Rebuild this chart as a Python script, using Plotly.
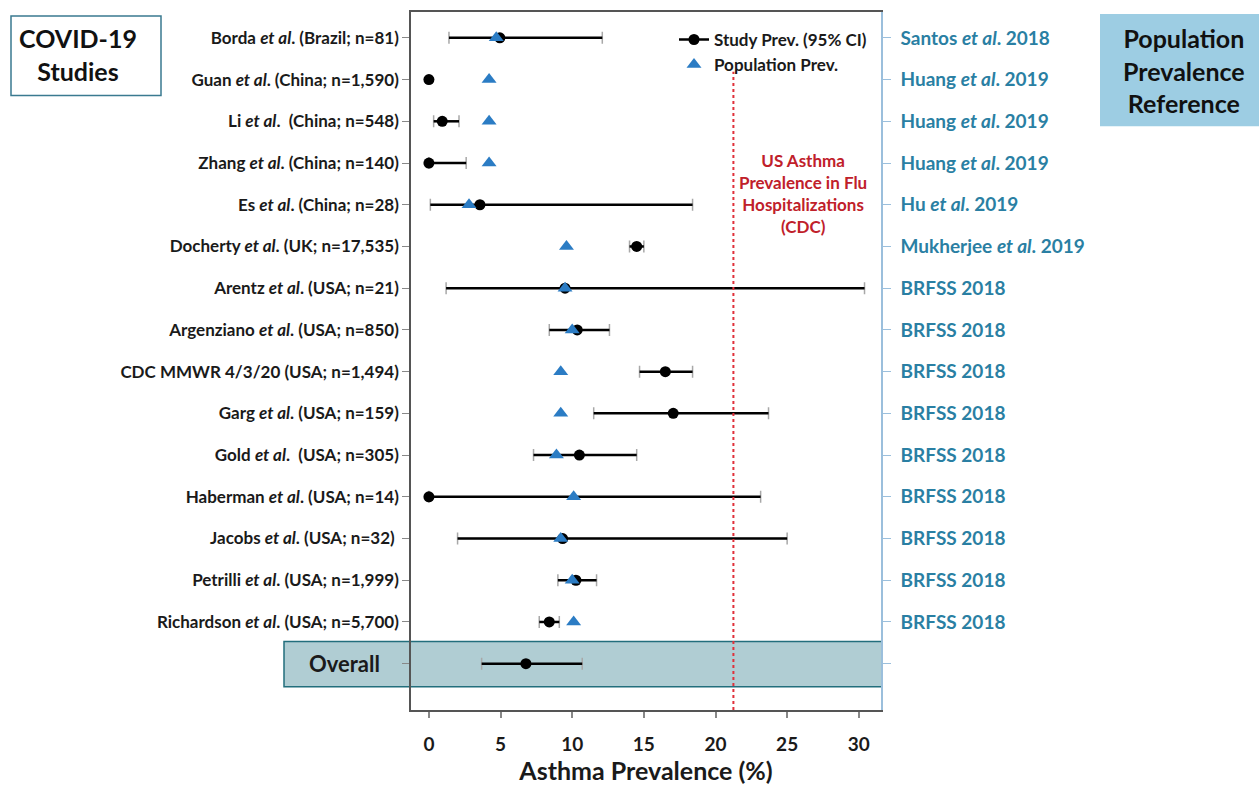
import plotly.graph_objects as go

# ---------------- data ----------------
studies = [
    "Borda <i>et al</i>. (Brazil; n=81)",
    "Guan <i>et al</i>. (China; n=1,590)",
    "Li <i>et al</i>.  (China; n=548)",
    "Zhang <i>et al</i>. (China; n=140)",
    "Es <i>et al</i>. (China; n=28)",
    "Docherty <i>et al</i>. (UK; n=17,535)",
    "Arentz <i>et al</i>. (USA; n=21)",
    "Argenziano <i>et al</i>. (USA; n=850)",
    "CDC MMWR 4/3/20 (USA; n=1,494)",
    "Garg <i>et al</i>. (USA; n=159)",
    "Gold <i>et al</i>.  (USA; n=305)",
    "Haberman <i>et al</i>. (USA; n=14)",
    "Jacobs <i>et al</i>. (USA; n=32) ",
    "Petrilli <i>et al</i>. (USA; n=1,999)",
    "Richardson <i>et al</i>. (USA; n=5,700)",
    "",
]
overall_label = "Overall"
references = [
    "Santos <i>et al</i>. 2018",
    "Huang <i>et al</i>. 2019",
    "Huang <i>et al</i>. 2019",
    "Huang <i>et al</i>. 2019",
    "Hu <i>et al</i>. 2019",
    "Mukherjee <i>et al</i>. 2019",
    "BRFSS 2018", "BRFSS 2018", "BRFSS 2018", "BRFSS 2018", "BRFSS 2018",
    "BRFSS 2018", "BRFSS 2018", "BRFSS 2018", "BRFSS 2018",
    "",
]
study_prev = [4.95, 0.0, 0.93, 0.0, 3.56, 14.5, 9.5, 10.35, 16.5, 17.05, 10.5, 0.0, 9.33, 10.26, 8.4, 6.77]
ci_low     = [1.4, None, 0.33, 0.0, 0.1, 14.0, 1.2, 8.4, 14.7, 11.5, 7.3, 0.0, 2.0, 9.0, 7.7, 3.68]
ci_high    = [12.1, None, 2.1, 2.6, 18.4, 15.0, 30.4, 12.6, 18.4, 23.7, 14.5, 23.15, 25.0, 11.7, 9.1, 10.7]
pop_prev   = [4.7, 4.2, 4.2, 4.2, 2.8, 9.6, 9.5, 10.0, 9.2, 9.2, 8.9, 10.1, 9.2, 10.0, 10.1, None]
flu_hosp_prev = 21.25
x_ticks = [0, 5, 10, 15, 20, 25, 30]

rows = list(range(len(studies)))

# ---------------- layout geometry helpers ----------------
W, H = 1259, 787
PL, PR, PT, PB = 411, 881, 10, 712
def px(xp):
    return (xp - PL) / (PR - PL)
def py(yp):
    return (PB - yp) / (PB - PT)

FONT = "Lato"
TEAL = "#2a7fa3"

# ---------------- traces ----------------
cap_x, cap_y, cap_plus, cap_minus = [], [], [], []
for r, p, lo, hi in zip(rows, study_prev, ci_low, ci_high):
    if lo is None:
        continue
    cap_x.append(p); cap_y.append(r)
    cap_plus.append(hi - p); cap_minus.append(p - lo)

fig = go.Figure()
fig.add_trace(go.Scatter(
    x=cap_x, y=cap_y, mode="markers",
    marker=dict(size=1, opacity=0),
    error_x=dict(type="data", array=cap_plus, arrayminus=cap_minus, symmetric=False,
                 color="#a8a8a8", thickness=1.5, width=6),
    showlegend=False, hoverinfo="skip",
))

seg_x, seg_y = [], []
for r, lo, hi in zip(rows, ci_low, ci_high):
    if lo is None:
        continue
    seg_x += [lo, hi, None]
    seg_y += [r, r, None]
fig.add_trace(go.Scatter(
    x=seg_x, y=seg_y, mode="lines",
    line=dict(color="black", width=2.5),
    showlegend=False, hoverinfo="skip",
))

pt_x, pt_y = [], []
for r, p in zip(rows, study_prev):
    pt_x += [p, None]
    pt_y += [r, None]
fig.add_trace(go.Scatter(
    x=pt_x, y=pt_y, mode="lines+markers", connectgaps=False,
    line=dict(color="black", width=2.5),
    marker=dict(symbol="circle", size=11, color="black"),
    name="Study Prev. (95% CI)",
))

fig.add_trace(go.Scatter(
    x=pop_prev, y=rows, yaxis="y2", mode="markers",
    marker=dict(symbol="triangle-up", size=13, color="#2b7cc4"),
    name="Population Prev.",
))

# ---------------- layout ----------------
yrange = [16.11, -0.62]
fig.update_layout(
    width=W, height=H,
    margin=dict(l=PL, r=W - PR, t=PT, b=H - PB, pad=0),
    paper_bgcolor="white",
    plot_bgcolor="rgba(0,0,0,0)",
    font=dict(family=FONT, color="#1a1a1a"),
    xaxis=dict(
        range=[-1.25, 31.55], tickvals=x_ticks, ticktext=[str(v) for v in x_ticks],
        showgrid=False, zeroline=False,
        showline=True, linecolor="#555555", linewidth=1.5, mirror=True,
        ticks="outside", ticklen=6, tickcolor="#888888", tickwidth=1.5,
        tickfont=dict(family=FONT, size=19, weight="bold", color="#1a1a1a"),
        ticklabelstandoff=10,
        title=dict(text="Asthma Prevalence (%)", standoff=5,
                   font=dict(family=FONT, size=25, weight="bold", color="#1a1a1a")),
    ),
    yaxis=dict(
        range=yrange, tickvals=rows, ticktext=studies,
        showgrid=False, zeroline=False,
        showline=True, linecolor="#555555", linewidth=1.5,
        ticks="outside", ticklen=7, tickcolor="#888888", tickwidth=1.2,
        tickfont=dict(family=FONT, size=17, weight="bold", color="#1a1a1a"),
    ),
    yaxis2=dict(
        range=yrange, tickvals=rows, ticktext=references,
        overlaying="y", side="right",
        showgrid=False, zeroline=False,
        showline=True, linecolor="#9bbfdc", linewidth=1.5,
        ticks="outside", ticklen=8, tickcolor="#9bbfdc", tickwidth=1.2,
        tickfont=dict(family=FONT, size=19, weight="bold", color=TEAL),
        ticklabelstandoff=6,
    ),
    legend=dict(
        x=px(872), y=py(20), xanchor="right", yanchor="top",
        bgcolor="rgba(0,0,0,0)", borderwidth=0,
        font=dict(family=FONT, size=17, weight="bold", color="#1a1a1a"),
        itemwidth=30, tracegroupgap=0,
    ),
    showlegend=True,
)

shapes = []
shapes.append(dict(
    type="rect", xref="paper", yref="y",
    x0=px(284), x1=px(882), y0=15.55, y1=14.47,
    fillcolor="#b0cdd3", line=dict(color="#226e7c", width=1.5), layer="below",
))
shapes.append(dict(
    type="line", xref="x", yref="paper",
    x0=flu_hosp_prev, x1=flu_hosp_prev, y0=0, y1=py(70),
    line=dict(color="#e0303a", width=2, dash="dot"),
))
shapes.append(dict(
    type="rect", xref="paper", yref="paper",
    x0=px(11), x1=px(161), y0=py(94), y1=py(14),
    fillcolor="white", line=dict(color="#3a7a90", width=1.5),
))
shapes.append(dict(
    type="rect", xref="paper", yref="paper",
    x0=px(1100), x1=px(1262), y0=py(125), y1=py(12),
    fillcolor="#9dcde3", line=dict(width=0),
))
fig.update_layout(shapes=shapes)

annotations = [
    dict(text=overall_label, xref="paper", yref="y", x=px(344), y=15,
         xanchor="center", yanchor="middle",
         showarrow=False, font=dict(family=FONT, size=22, weight="bold", color="#1a1a1a")),
    dict(text="US Asthma<br>Prevalence in Flu<br>Hospitalizations<br>(CDC)",
         xref="paper", yref="paper", x=px(803), y=py(193),
         xanchor="center", yanchor="middle",
         showarrow=False, font=dict(family=FONT, size=17, weight="bold", color="#c0202a")),
    dict(text="COVID-19<br>Studies", xref="paper", yref="paper", x=px(78), y=py(53),
         xanchor="center", yanchor="middle",
         showarrow=False, font=dict(family=FONT, size=25, weight="bold", color="#111111")),
    dict(text="Population<br>Prevalence<br>Reference", xref="paper", yref="paper",
         x=px(1184), y=py(69),
         xanchor="center", yanchor="middle",
         showarrow=False, font=dict(family=FONT, size=25, weight="bold", color="#111111")),
]
fig.update_layout(annotations=annotations)

fig.write_html("out.html", config={"displayModeBar": False},
               post_script="document.body.style.margin='0';")
